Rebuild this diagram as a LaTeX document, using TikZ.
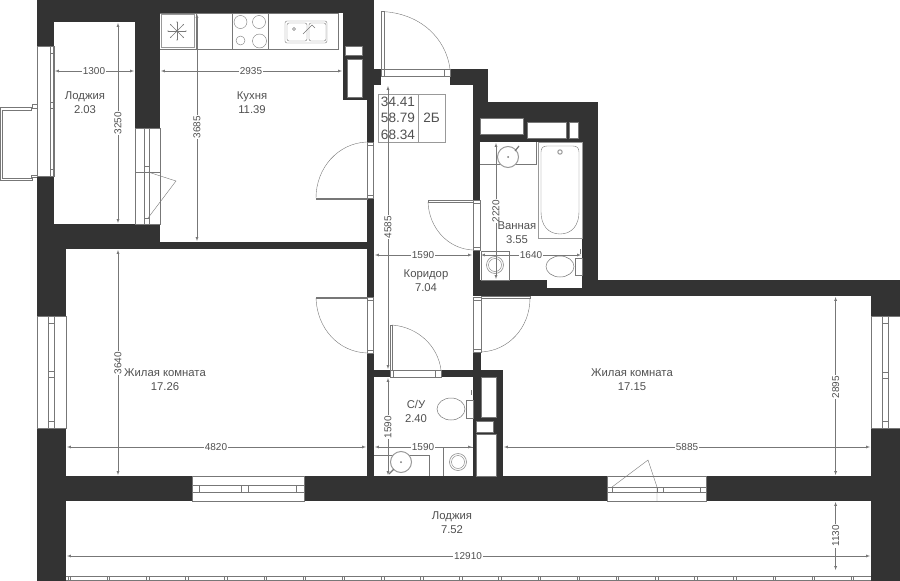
\documentclass[tikz,border=0pt]{standalone}
\usepackage{fontspec}
\setmainfont{Liberation Sans}
\usetikzlibrary{calc, positioning}

\tikzset{
    hollow/.style={fill=white, draw=linec, line width=.5pt},
    thin line/.style={draw=linec, line width=.4pt},
    ring/.style={fill=white, draw=ringc, line width=1pt},
    dimline/.style={draw=linec, line width=.35pt, <->, >=latex, shorten >=1pt, shorten <=1pt},
    dimtext/.style={fill=white, inner sep=1pt, text=textc, font=\fontsize{10}{11}\selectfont},
    roomtext/.style={align=center, text=textc, font=\fontsize{11.3}{14}\selectfont},
    tabletext/.style={text=textc, font=\fontsize{13.6}{15}\selectfont},
}
\definecolor{wallc}{HTML}{333333}
\definecolor{linec}{HTML}{777777}
\definecolor{ringc}{HTML}{999999}
\definecolor{textc}{HTML}{505050}

\begin{document}
\begin{tikzpicture}[x=1pt, y=-1pt]
\useasboundingbox (0,0) rectangle (900,581);

% walls
\foreach \xa/\ya/\xb/\yb in {37/0/374/13, 37/0/160/22, 37/22/54/46, 37/176/54/224, 37/224/160/249,
    135/13/160/128, 343/13/374/100, 367/100/374/142, 367/69/381/85, 160/242/374/249, 367/198/374/297,
    37/249/66/316, 37/428/66/581, 37/476/192/501, 304/476/607/501, 706/476/900/501,
    871/428/900/581, 871/296/900/316, 473/280/547/296, 547/288/598/296, 582/102/598/296,
    598/280/900/296, 473/102/598/142, 473/142/480/200, 450/69/488/85, 473/85/488/102,
    473/250/480/296, 473/352/481/377, 367/353/374/476, 367/370/390/377, 441/370/503/377,
    473/377/481/476, 473/417/503/434, 496/377/503/476}
{
    \fill[wallc] (\xa,\ya) rectangle (\xb,\yb);
}

% shafts and storage
\foreach \xa/\ya/\xb/\yb in {345/46/362/55, 347/59/362/97, 480/118/523/134, 527/122/566/138,
    569/122/578/138, 481/377/496/417, 476/421/493/432, 476/434/496/476}
{
    \draw[hollow] (\xa,\ya) rectangle (\xb,\yb);
}

% balcony on the left
\draw[hollow] (37,104)--(32,104)--(32,107)--(0,107)--(0,180)--(32,180)--(32,177)--(37,177);
\draw[thin line] (37,108)--(31,108)--(31,110)--(2,110)--(2,178)--(31,178)--(31,175)--(37,175);

% windows, vertical
\foreach \xa/\xb/\la/\lb/\ya/\yb/\ym in {37/54/50/53/46/176/105, 37/66/48/54/316/428/374, 871/900/882/888/316/428/375}
{
    \draw[hollow] (\xa,\ya) rectangle (\xb,\yb);
    \draw[thin line] (\la,\ya)--(\la,\yb) (\lb,\ya)--(\lb,\yb);
    \draw[thin line] (\la,\ym-3)--(\lb,\ym-3) (\la,\ym+3)--(\lb,\ym+3);
    \draw[thin line] (\la,\ya+7)--(\lb,\ya+7) (\la,\yb-7)--(\lb,\yb-7);
}
\draw[hollow] (135,128) rectangle (160,224);
\draw[thin line] (144,128)--(144,224) (149,128)--(149,224);
\draw[thin line] (135,172)--(160,172) (144,218)--(149,218) (144,166)--(149,166);
\draw[thin line] (148,172)--(176,181)--(148,218);

% windows, horizontal
\foreach \xa/\xb/\ma/\mb/\mc/\md/\la/\lb in {192/304/199/241/248/296/485/492, 607/706/612/657/663/700/487/492}
{
    \draw[hollow] (\xa,476) rectangle (\xb,501);
    \draw[thin line] (\xa,\la)--(\xb,\la) (\xa,\lb)--(\xb,\lb);
    \foreach \m in {\ma,\mb,\mc,\md}
        \draw[thin line] (\m,\la)--(\m,\lb);
}
\draw[thin line] (612,487)--(648,460)--(657,487)--(657,501);

% rail of the big loggia
\draw[thin line] (66,576)--(871,576) (66,580)--(871,580);
\foreach \k in {0,...,20}
{
    \draw[thin line] ({68+39.15*\k},576)--({68+39.15*\k},580);
    \draw[thin line] ({70.5+39.15*\k},576)--({70.5+39.15*\k},580);
}

% door openings in walls
\foreach \xa/\ya/\xb/\yb in {367/142/373/198, 473/200/480/250, 367/297/373/353, 473/297/481/352}
{
    \draw[hollow] (\xa,\ya) rectangle (\xb,\yb);
    \draw[thin line] (\xa,\ya+3)--(\xb,\ya+3) (\xa,\yb-3)--(\xb,\yb-3);
}
\foreach \xa/\ya/\xb/\yb in {381/69/450/76, 390/370/441/377}
{
    \draw[hollow] (\xa,\ya) rectangle (\xb,\yb);
    \draw[thin line] (\xa+3,\ya)--(\xa+3,\yb) (\xb-6,\ya)--(\xb-6,\yb);
}

% door leaves
\draw[hollow] (381.5,11.5) rectangle (384,69);
\draw[thin line] (381.5,11.5) .. controls (420,13) and (446,38) .. (450,69);
\draw[hollow] (316,198) rectangle (367,199.5);
\draw[thin line] (367,142) .. controls (338,143) and (316,168) .. (316,198);
\draw[hollow] (428,200) rectangle (473,202);
\draw[thin line] (428,202) .. controls (429,228) and (448,249) .. (473,250);
\draw[hollow] (316,297) rectangle (367,298.5);
\draw[thin line] (316,298) .. controls (317,328) and (338,352) .. (367,353);
\draw[hollow] (481,296) rectangle (530,298);
\draw[thin line] (530,298) .. controls (530,328) and (508,351) .. (481,352);
\draw[hollow] (390,325) rectangle (392,370);
\draw[thin line] (392,325) .. controls (418,327) and (438,346) .. (441,370);

% kitchen
\draw[thin line] (160,49.5)--(338,49.5)--(338,13);
\draw[thin line] (160,13)--(338,13);
\draw[thin line] (196,13)--(196,49.5) (232,13)--(232,49.5) (268.5,13)--(268.5,49.5);
\draw[draw=ringc, line width=1pt] (161.5,14.5) rectangle (194,47.5);
\foreach \a in {0,45,...,315}
{
    \draw[thin line] (177,31)--++(\a:9);
    \fill[linec] (177,31)++(\a:9) circle (.7);
}
\fill[linec] (177,31) circle (1.3);
\foreach \cx/\cy/\r in {240.5/22/6.5, 259/22/6.5, 240.5/40.5/4.5, 259.5/41/7}
{
    \draw[thin line] (\cx,\cy) circle (\r);
}
\draw[thin line, rounded corners=2] (285,21) rectangle (327,43);
\draw[thin line, rounded corners=2] (287,23) rectangle (307,41);
\draw[thin line, rounded corners=2] (309,23) rectangle (326,41);
\draw[thin line] (303,34)--(312,25)--(315,28);
\draw[thin line] (294,29) circle (1.5);

% bathroom
\draw[thin line] (480,164)--(536,164)--(536,142);
\draw[ring] (508,157) circle (10.5);
\fill[linec] (508,157) circle (1);
\draw[line width=1.2pt, linec] (515,151)--(519,146);
\draw[draw=ringc, line width=1pt] (538,142) rectangle (582,238);
\draw[thin line] (560,234) .. controls (548,234) and (541,225) .. (541,212)
    -- (541,152) .. controls (541,148) and (543,146) .. (547,146) -- (573,146)
    .. controls (577,146) and (579,148) .. (579,152) -- (579,212) .. controls (579,225) and (572,234) .. (560,234);
\draw[ring] (560,152) circle (2.2);
\draw[thin line] (481,251) rectangle (509.5,280);
\draw[ring, line width=.7pt] (495,265) circle (8.5);
\draw[thin line] (495,265) circle (6.5);
\draw[thin line] (575,258) rectangle (582,275);
\draw[hollow] (560,266.5) ellipse (14 and 10.5);
\draw[line width=1pt, linec] (580,249)--(580,254);

% wc
\draw[thin line] (374,455)--(429,455)--(429,476);
\draw[ring] (401,462) circle (10.5);
\fill[linec] (401,462) circle (1);
\draw[line width=1.2pt, linec] (394,469)--(389,474);
\draw[thin line] (443,476)--(443,447)--(473,447);
\draw[ring, line width=.7pt] (458,462) circle (8.5);
\draw[thin line] (458,462) circle (6.5);
\draw[thin line] (466,400) rectangle (473,418);
\draw[hollow] (451,409) ellipse (14 and 11);
\draw[line width=1pt, linec] (471,390)--(471,395);

% plan table
\draw[draw=ringc, line width=.5pt] (378.5,94.5) rectangle (445,142);
\draw[draw=ringc, line width=.5pt] (418,94.5)--(418,142);

% dimensions, horizontal
\foreach \xa/\xb/\yy/\xl/\val [count=\i] in {54/135/71/94/1300, 160/343/71/251/2935, 374/473/255/423/1590,
    480/582/255/531/1640, 374/473/447/423/1590, 66/367/447/216/4820, 503/871/447/687/5885,
    66/871/556/468/12910}
{
    \draw[dimline] (\xa,\yy)--(\xb,\yy);
    \node[dimtext] (hdim\i) at (\xl,\yy) {\val};
}

% dimensions, vertical
\foreach \xx/\ya/\yb/\yl/\val [count=\i] in {118/22/224/123/3250, 197/13/242/127/3685, 388/85/370/227/4585,
    496/142/280/211/2220, 388/377/476/427/1590, 118/249/476/363/3640, 835.6/296/476/387/2895,
    835.6/501/571/536/1130}
{
    \draw[dimline] (\xx,\ya)--(\xx,\yb);
    \node[dimtext, rotate=90] (vdim\i) at (\xx,\yl) {\val};
}

% table text
\node[tabletext] (areaA) at (398,102) {34.41};
\node[tabletext] (areaB) at (398,118) {58.79};
\node[tabletext] (areaC) at (398,135) {68.34};
\node[tabletext] (areaType) at (431.5,118) {2Б};

% rooms
\node[roomtext] (loggiaA) at (85,103) {Лоджия\\2.03};
\node[roomtext] (kitchen) at (252,103) {Кухня\\11.39};
\node[roomtext] (bath) at (517,233) {Ванная\\3.55};
\node[roomtext] (hall) at (426,281) {Коридор\\7.04};
\node[roomtext] (roomA) at (165,380) {Жилая комната\\17.26};
\node[roomtext] (wc) at (416,411) {С/У\\2.40};
\node[roomtext] (roomB) at (632,380) {Жилая комната\\17.15};
\node[roomtext] (loggiaB) at (452,523) {Лоджия\\7.52};
\end{tikzpicture}
\end{document}
